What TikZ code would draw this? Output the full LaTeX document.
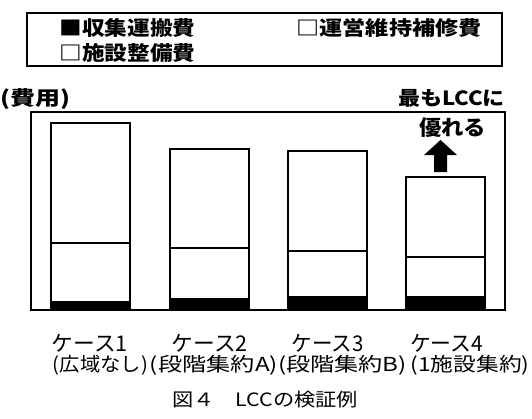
\documentclass[tikz,border=0pt]{standalone}
\usepackage{fontspec}
\usepackage{graphicx}
\newfontfamily\jp{Noto Sans CJK JP}
\newcommand\fittext[3]{\resizebox*{#1pt}{#2pt}{#3}}
\begin{document}
\begin{tikzpicture}[x=1pt,y=-1pt,
  txt/.style={inner sep=0pt, font=\jp\fontsize{20}{20}\selectfont},
  btxt/.style={inner sep=0pt, font=\jp\bfseries\fontsize{20}{20}\selectfont},
  legbox/.style={draw, line width=1.4pt},
  chartframe/.style={draw, line width=1.8pt},
  barpart/.style={draw, line width=1.9pt, fill=white},
  basepart/.style={draw, line width=1.9pt, fill=black},
  bigarrow/.style={fill=black}
]
\useasboundingbox (0,0) rectangle (532,418);

% legend
\draw[legbox] (27,13) rectangle (502,66);
\node[btxt] (l1) at (127.5,28) {\fittext{136}{19}{■収集運搬費}};
\node[btxt] (l2) at (389,27.5) {\fittext{185}{19}{□運営維持補修費}};
\node[btxt] (l3) at (127.5,53) {\fittext{136}{19}{□施設整備費}};

% axis label and annotation
\node[btxt] (ylab) at (35,99) {\fittext{70}{21}{(費用)}};
\node[btxt] (best1) at (451.5,98.5) {\fittext{107}{18}{最もLCCに}};
\node[btxt] (best2) at (452.5,128) {\fittext{67}{20}{優れる}};

% chart frame
\draw[chartframe] (31,112) rectangle (505,310);

% bars: left, right, top, divider, black top
\foreach \l/\r/\t/\d/\b in {51/130/123/243/302, 170/249/149/248/299, 288/367/151/251/297, 406/485/177/257/297}{
  \draw[barpart] (\l,\t) rectangle (\r,\d);
  \draw[barpart] (\l,\d) rectangle (\r,\b);
  \draw[basepart] (\l,\b) rectangle (\r,309);
}

% arrow
\fill[bigarrow] (434,172) -- (434,155) -- (424,155) -- (440.5,140) -- (457,155) -- (447,155) -- (447,172) -- cycle;

% case labels
\node[txt] (c1) at (90,343) {\fittext{76}{18}{ケース1}};
\node[txt] (c2) at (210,343) {\fittext{76}{18}{ケース2}};
\node[txt] (c3) at (327.5,343) {\fittext{72}{18}{ケース3}};
\node[txt] (c4) at (446.5,343) {\fittext{73}{18}{ケース4}};
\node[txt] (d1) at (100.5,365) {\fittext{95}{20}{(広域なし)}};
\node[txt] (d2) at (214,365) {\fittext{128}{20}{(段階集約A)}};
\node[txt] (d3) at (342.5,365) {\fittext{129}{20}{(段階集約B)}};
\node[txt] (d4) at (470,365) {\fittext{119}{20}{(1施設集約)}};

% caption
\node[txt] (cap) at (265,400) {\fittext{186}{17}{図４　LCCの検証例}};
\end{tikzpicture}
\end{document}
